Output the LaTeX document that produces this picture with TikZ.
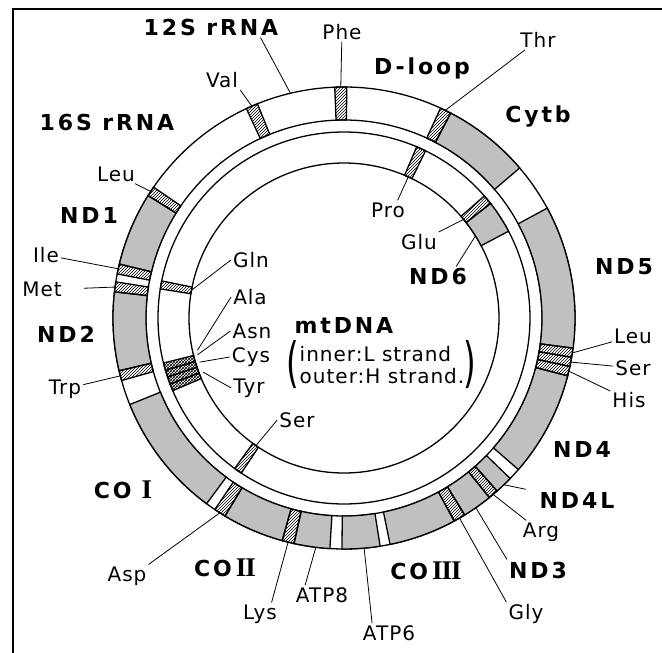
\documentclass[tikz,border=0pt]{standalone}
\usepackage{fontspec}
\setmainfont{DejaVu Sans}
\newfontfamily\lblfont[LetterSpace=5]{DejaVu Sans}
\newfontfamily\genefont[LetterSpace=13]{DejaVu Sans}
\newfontfamily\numfont[LetterSpace=-4]{Liberation Serif}
\usetikzlibrary{patterns}
\definecolor{geneGray}{RGB}{192,192,192}
%ring segment: style, start angle, end angle, outer radius, inner radius
\newcommand{\ringpart}[5]{\path[#1] (#2:#4pt) arc[start angle=#2,end angle=#3,radius=#4pt] -- (#3:#5pt) arc[start angle=#3,end angle=#2,radius=#5pt] -- cycle;}
%roman numeral of the CO genes
\newcommand{\romnum}[1]{{\numfont\bfseries\fontsize{27}{27}\selectfont #1}}

\begin{document}
\begin{tikzpicture}[x=1pt,y=1pt,
  lbl/.style={font=\lblfont\fontsize{20}{22}\selectfont,inner sep=2pt},
  gene/.style={font=\genefont\bfseries\fontsize{22}{24}\selectfont,inner sep=2pt},
  paren/.style={font=\lblfont\fontsize{54}{54}\selectfont,inner sep=0pt},
  ring/.style={draw=black,line width=1.3pt},
  coding/.style={ring,fill=geneGray},
  trna/.style={ring,pattern=north east lines},
  trnaset/.style={ring,pattern=crosshatch},
  leader/.style={draw=black,line width=0.8pt}]
\useasboundingbox (-344,-335) rectangle (318,318);
%frame
\draw[line width=2pt] (-331,-335) -- (-331,309) -- (318,309);
%radii
\pgfmathsetmacro{\rHo}{231}   %H strand outer edge
\pgfmathsetmacro{\rHi}{198}   %H strand inner edge
\pgfmathsetmacro{\rLo}{186}   %L strand outer edge
\pgfmathsetmacro{\rLi}{155}   %L strand inner edge

%strands
\foreach \rad in {\rHo,\rHi,\rLo,\rLi}{
\draw[ring] (0,0) circle[radius=\rad pt];
}
%----------------------
%H strand genes
\foreach \a/\b in {40.5/62.5, -7.5/28.4, -41/-14.5, -48.5/-44, -58.5/-51, -78.5/-61.5, -90.5/-81, -102.5/-93.5, -121/-105.5, 202/233.5, 173.5/193.2, 148/166.5}{
\ringpart{coding}{\a}{\b}{\rHo}{\rHi}
}
%H strand tRNAs
\foreach \a/\b in {89.3/92.3, 62.5/65.3, -9.8/-7.5, -12.1/-9.8, -14.5/-12.1, -51/-48.5, -61.5/-58.5, -105.5/-102.5, -124/-121, 193.2/195.7, 171/173.5, 166.5/169, 145.5/148, 112/115}{
\ringpart{trna}{\a}{\b}{\rHo}{\rHi}
}
%----------------------
%L strand gene
\ringpart{coding}{27.8}{38}{\rLo}{\rLi}
%L strand tRNAs
\foreach \a/\b in {64/67, 38/41, 168.5/171, 234/236.5}{
\ringpart{trna}{\a}{\b}{\rLo}{\rLi}
}
\foreach \a/\b in {194/196.3, 196.3/198.5, 198.5/200.8, 200.8/203}{
\ringpart{trnaset}{\a}{\b}{\rLo}{\rLi}
}
%========================
%leader ends on H strand
\coordinate (m12S) at (103.4:\rHo pt);
\coordinate (mPhe) at (90.8:\rHo pt);
\coordinate (mThr) at (64:\rHo pt);
\coordinate (mLeuR) at (-8.7:\rHo pt);
\coordinate (mSerR) at (-11:\rHo pt);
\coordinate (mHis) at (-13.3:\rHo pt);
\coordinate (mND4L) at (-46.2:\rHo pt);
\coordinate (mArg) at (-49.8:\rHo pt);
\coordinate (mND3) at (-55.2:\rHo pt);
\coordinate (mGly) at (-60:\rHo pt);
\coordinate (mATP6) at (-85:\rHo pt);
\coordinate (mATP8) at (-97:\rHo pt);
\coordinate (mLys) at (-104:\rHo pt);
\coordinate (mAsp) at (-122.5:\rHo pt);
\coordinate (mTrp) at (194.5:\rHo pt);
\coordinate (mMet) at (172.3:\rHo pt);
\coordinate (mIle) at (167.7:\rHo pt);
\coordinate (mLeuL) at (146.8:\rHo pt);
\coordinate (mVal) at (113.5:\rHo pt);
%leader ends on L strand
\coordinate (mSerI) at (-124.6:\rLi pt);
\coordinate (mPro) at (65.5:\rLi pt);
\coordinate (mGlu) at (39.5:\rLi pt);
\coordinate (mND6) at (32:\rLi pt);
\coordinate (mGln) at (169.7:\rLi pt);
\coordinate (mAla) at (192.4:150pt);
\coordinate (mAsn) at (194.1:151pt);
\coordinate (mCys) at (197:151pt);
\coordinate (mTyr) at (201:151pt);
%========================
%text
\node[gene] (t12S) at (-133,291) {12S rRNA};
\node[lbl] (tPhe) at (-2,286) {Phe};
\node[gene] (tDloop) at (78,250) {D-loop};
\node[lbl] (tThr) at (194,278) {Thr};
\node[gene] (tCytb) at (194,201) {Cytb};
\node[gene] (tND5) at (280,51) {ND5};
\node[lbl] (tLeuR) at (289,-18) {Leu};
\node[lbl] (tSerR) at (289,-50) {Ser};
\node[lbl] (tHis) at (285,-82) {His};
\node[gene] (tND4) at (238,-131) {ND4};
\node[gene] (tND4L) at (233,-182) {ND4L};
\node[lbl] (tArg) at (197,-214) {Arg};
\node[gene] (tND3) at (194,-252) {ND3};
\node[lbl] (tGly) at (182,-296) {Gly};
\node[gene] (tCOIII) at (82,-253) {CO\hspace{4pt}\romnum{III}};
\node[lbl] (tATP6) at (45,-315) {ATP6};
\node[lbl] (tATP8) at (-22,-277) {ATP8};
\node[lbl] (tLys) at (-84,-296) {Lys};
\node[gene] (tCOII) at (-119,-250) {CO\hspace{4pt}\romnum{II}};
\node[lbl] (tAsp) at (-217,-258) {Asp};
\node[gene] (tCOI) at (-221,-172) {CO\hspace{10pt}\romnum{I}};
\node[lbl] (tSerI) at (-47,-102) {Ser};
\node[lbl] (tTrp) at (-279,-71) {Trp};
\node[gene] (tND2) at (-278,-16) {ND2};
\node[lbl] (tMet) at (-302,29) {Met};
\node[lbl] (tIle) at (-298,63) {Ile};
\node[gene] (tND1) at (-255,103) {ND1};
\node[lbl] (tLeuL) at (-228,144) {Leu};
\node[gene] (t16S) at (-237,196) {16S rRNA};
\node[lbl] (tVal) at (-122,238) {Val};
\node[lbl] (tPro) at (44,108) {Pro};
\node[lbl] (tGlu) at (75,76) {Glu};
\node[gene] (tND6) at (94,41) {ND6};
\node[lbl] (tGln) at (-93,58) {Gln};
\node[lbl] (tAla) at (-94,21) {Ala};
\node[lbl] (tAsn) at (-92,-13) {Asn};
\node[lbl] (tCys) at (-93,-39) {Cys};
\node[lbl] (tTyr) at (-95,-70) {Tyr};
\node[gene] (tMt) at (0,-7) {mtDNA};
\node[lbl,align=left] (tStrand) at (38,-47) {inner:L strand\\outer:H strand.};
\node[paren] (pLeft) at (-51,-47) {\scalebox{0.6}[1]{(}};
\node[paren] (pRight) at (126,-47) {\scalebox{0.6}[1]{)}};
%leaders
\draw[leader] (t12S.-12) -- (m12S);
\draw[leader] (tPhe) -- (mPhe);
\draw[leader] (tThr) -- (mThr);
\draw[leader] (tLeuR) -- (mLeuR);
\draw[leader] (tSerR) -- (mSerR);
\draw[leader] (tHis) -- (mHis);
\draw[leader,shorten <=12pt] (tND4L) -- (mND4L);
\draw[leader] (tArg) -- (mArg);
\draw[leader] (tND3.north west) -- (mND3);
\draw[leader] (tGly.north west) -- (mGly);
\draw[leader] (tATP6.150) -- (mATP6);
\draw[leader] (tATP8.150) -- (mATP8);
\draw[leader] (tLys.45) -- (mLys);
\draw[leader] (tAsp.north east) -- (mAsp);
\draw[leader] (tSerI.west) -- (mSerI);
\draw[leader] (tTrp) -- (mTrp);
\draw[leader,shorten <=20pt] (tMet.east) -- (mMet);
\draw[leader] (tIle) -- (mIle);
\draw[leader] (tLeuL) -- (mLeuL);
\draw[leader] (tVal.south east) -- (mVal);
\draw[leader] (tPro.45) -- (mPro);
\draw[leader] (tGlu) -- (mGlu);
\draw[leader] (tND6.30) -- (mND6);
\draw[leader] (tGln.west) -- (mGln);
\draw[leader] (tAla.west) -- (mAla);
\draw[leader] (tAsn.west) -- (mAsn);
\draw[leader] (tCys.west) -- (mCys);
\draw[leader] (tTyr.west) -- (mTyr);
\end{tikzpicture}
\end{document}
